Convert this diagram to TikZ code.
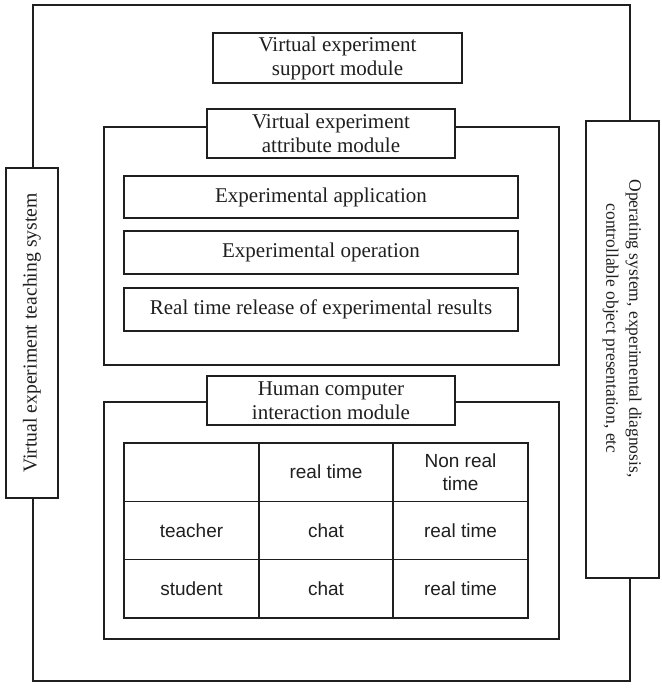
\documentclass[tikz,border=0pt]{standalone}
\usepackage{fontspec}
\setmainfont{Liberation Serif}
\newfontfamily\tabfont{Liberation Sans}
\begin{document}
\begin{tikzpicture}[x=1pt,y=-1pt, line width=1.2pt, color=black!88,
  box/.style={draw, fill=white, inner sep=0pt, align=center, font=\fontsize{21}{24}\selectfont},
  frame/.style={draw, inner sep=0pt},
  cell/.style={draw, inner sep=0pt, align=center, minimum height=58.3pt, font=\tabfont\fontsize{19}{23}\selectfont}]
\useasboundingbox (0,0) rectangle (661,690);
% outer frame
\node[frame, minimum width=597pt, minimum height=676pt] (outer) at (331.5,343) {};
% top module
\node[box, minimum width=249pt, minimum height=50pt] (support) at (337.5,58) {Virtual experiment\\support module};
% attribute module
\node[frame, minimum width=455pt, minimum height=238pt] (attrframe) at (331.5,246) {};
\node[box, minimum width=248pt, minimum height=49pt] (attrtab) at (331,133.5) {Virtual experiment\\attribute module};
\node[box, minimum width=394pt, minimum height=42pt] (app) at (321,197) {Experimental application};
\node[box, minimum width=394pt, minimum height=43pt] (op) at (321,252.5) {Experimental operation};
\node[box, minimum width=394pt, minimum height=43pt] (res) at (321,309.5) {Real time release of experimental results};
% HCI module
\node[frame, minimum width=455pt, minimum height=237pt] (hciframe) at (331.5,520.5) {};
\node[box, minimum width=248pt, minimum height=49pt] (hcitab) at (331,400.5) {Human computer\\interaction module};
% table
\node[cell, minimum width=135pt] (c11) at (191.5,472.2) {};
\node[cell, minimum width=134pt] (c12) at (326,472.2) {real time};
\node[cell, minimum width=135pt] (c13) at (460.5,472.2) {Non real\\time};
\node[cell, minimum width=135pt] (c21) at (191.5,530.5) {teacher};
\node[cell, minimum width=134pt] (c22) at (326,530.5) {chat};
\node[cell, minimum width=135pt] (c23) at (460.5,530.5) {real time};
\node[cell, minimum width=135pt] (c31) at (191.5,588.8) {student};
\node[cell, minimum width=134pt] (c32) at (326,588.8) {chat};
\node[cell, minimum width=135pt] (c33) at (460.5,588.8) {real time};
% side boxes
\node[box, rotate=90, minimum width=330pt, minimum height=52pt, font=\fontsize{19.7}{23}\selectfont] (teach) at (32,333) {Virtual experiment teaching system};
\node[box, rotate=-90, minimum width=457pt, minimum height=73pt, font=\fontsize{17.5}{23}\selectfont] (os) at (622.5,349.5) {\begin{tabular}{@{}c@{}}Operating system, experimental diagnosis,\\controllable object presentation, etc\end{tabular}\hspace{42pt}};
\end{tikzpicture}
\end{document}
